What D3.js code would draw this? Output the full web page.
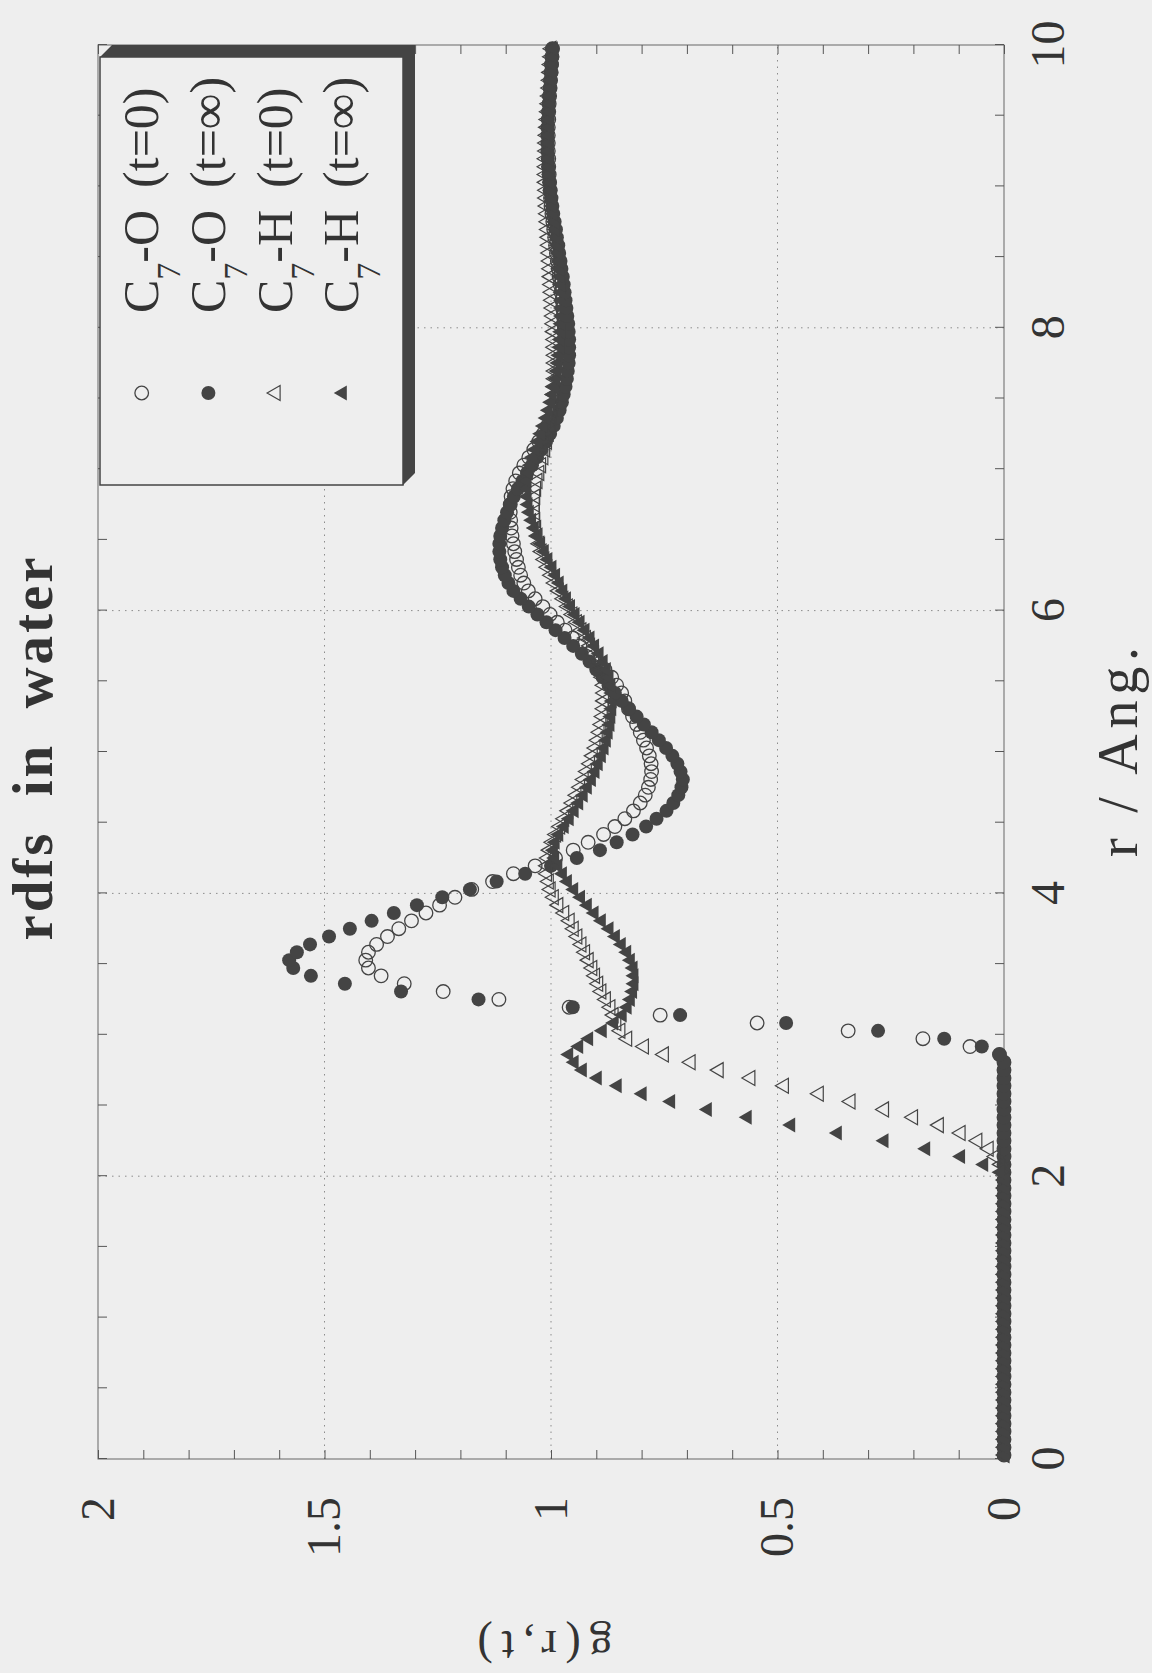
<!DOCTYPE html>
<html>
<head>
<meta charset="utf-8">
<script src="https://cdn.jsdelivr.net/npm/d3@7"></script>
<style>
  html, body { margin: 0; padding: 0; background: #eeeeee; }
  svg { display: block; }
</style>
</head>
<body>
<svg id="chart" width="1152" height="1673"></svg>
<script>
// r bins (Ang.), values sit at the bin centres
const rStart = 0.0278;
const rStep = 0.05556;

const rTicks = [0, 2, 4, 6, 8, 10];
const gTicks = [0, 0.5, 1, 1.5, 2];

const legendAtom = ["O", "O", "H", "H"];
const legendTime = ["0", "\u221E", "0", "\u221E"];

// C7-O (t=0)  open circles
const coT0 = [
  0, 0, 0, 0, 0, 0, 0, 0, 0, 0,
  0, 0, 0, 0, 0, 0, 0, 0, 0, 0,
  0, 0, 0, 0, 0, 0, 0, 0, 0, 0,
  0, 0, 0, 0, 0, 0, 0, 0, 0, 0,
  0, 0, 0, 0, 0, 0, 0, 0, 0, 0,
  0, 0.01, 0.075, 0.179, 0.344, 0.545, 0.759, 0.96, 1.115, 1.238,
  1.324, 1.375, 1.403, 1.409, 1.403, 1.385, 1.361, 1.336, 1.308, 1.276,
  1.246, 1.212, 1.175, 1.129, 1.083, 1.035, 0.99, 0.951, 0.918, 0.884,
  0.859, 0.837, 0.818, 0.803, 0.792, 0.785, 0.780, 0.778, 0.779, 0.783,
  0.789, 0.796, 0.803, 0.811, 0.820, 0.829, 0.837, 0.844, 0.855, 0.866,
  0.881, 0.899, 0.918, 0.936, 0.952, 0.969, 0.986, 1.002, 1.018, 1.035,
  1.050, 1.060, 1.067, 1.072, 1.076, 1.080, 1.083, 1.086, 1.088, 1.089,
  1.090, 1.090, 1.088, 1.084, 1.078, 1.070, 1.060, 1.049, 1.038, 1.027,
  1.017, 1.008, 1.000, 0.993, 0.987, 0.982, 0.978, 0.975, 0.973, 0.971,
  0.970, 0.970, 0.970, 0.971, 0.972, 0.973, 0.975, 0.976, 0.978, 0.980,
  0.982, 0.984, 0.986, 0.988, 0.990, 0.992, 0.994, 0.996, 0.998, 1.000,
  1.001, 1.002, 1.003, 1.004, 1.005, 1.005, 1.006, 1.006, 1.006, 1.006,
  1.005, 1.005, 1.004, 1.003, 1.002, 1.001, 1.000, 0.999, 0.998, 0.997
];

// C7-O (t=inf)  filled circles
const coTinf = [
  0, 0, 0, 0, 0, 0, 0, 0, 0, 0,
  0, 0, 0, 0, 0, 0, 0, 0, 0, 0,
  0, 0, 0, 0, 0, 0, 0, 0, 0, 0,
  0, 0, 0, 0, 0, 0, 0, 0, 0, 0,
  0, 0, 0, 0, 0, 0, 0, 0, 0, 0,
  0, 0.01, 0.049, 0.132, 0.278, 0.481, 0.715, 0.952, 1.160, 1.331,
  1.455, 1.530, 1.569, 1.578, 1.561, 1.532, 1.490, 1.444, 1.396, 1.347,
  1.296, 1.240, 1.179, 1.120, 1.057, 1.000, 0.943, 0.892, 0.855, 0.820,
  0.790, 0.767, 0.745, 0.730, 0.719, 0.712, 0.709, 0.714, 0.721, 0.732,
  0.746, 0.762, 0.778, 0.795, 0.811, 0.828, 0.844, 0.859, 0.873, 0.886,
  0.900, 0.915, 0.932, 0.951, 0.970, 0.990, 1.010, 1.030, 1.049, 1.067,
  1.083, 1.094, 1.102, 1.108, 1.112, 1.114, 1.114, 1.112, 1.108, 1.103,
  1.097, 1.090, 1.082, 1.073, 1.063, 1.053, 1.042, 1.031, 1.021, 1.011,
  1.002, 0.994, 0.987, 0.981, 0.976, 0.972, 0.968, 0.965, 0.963, 0.961,
  0.960, 0.960, 0.960, 0.961, 0.962, 0.964, 0.966, 0.968, 0.970, 0.972,
  0.974, 0.977, 0.979, 0.982, 0.984, 0.987, 0.989, 0.992, 0.995, 0.997,
  0.999, 1.001, 1.003, 1.005, 1.006, 1.007, 1.008, 1.008, 1.008, 1.008,
  1.007, 1.006, 1.005, 1.004, 1.002, 1.001, 0.999, 0.998, 0.997, 0.996
];

// C7-H (t=0)  open triangles
const chT0 = [
  0, 0, 0, 0, 0, 0, 0, 0, 0, 0,
  0, 0, 0, 0, 0, 0, 0, 0, 0, 0,
  0, 0, 0, 0, 0, 0, 0, 0, 0, 0,
  0, 0, 0, 0, 0, 0, 0, 0.008, 0.02, 0.035,
  0.060, 0.097, 0.145, 0.202, 0.266, 0.340, 0.410, 0.487, 0.561, 0.631,
  0.693, 0.752, 0.796, 0.833, 0.848, 0.857, 0.863, 0.870, 0.880, 0.890,
  0.897, 0.904, 0.910, 0.918, 0.926, 0.934, 0.943, 0.951, 0.960, 0.972,
  0.985, 0.995, 1.002, 1.006, 1.010, 1.010, 1.008, 1.004, 0.998, 0.990,
  0.981, 0.972, 0.963, 0.954, 0.945, 0.937, 0.929, 0.922, 0.915, 0.909,
  0.903, 0.898, 0.894, 0.890, 0.887, 0.885, 0.884, 0.884, 0.885, 0.888,
  0.892, 0.898, 0.906, 0.915, 0.924, 0.934, 0.944, 0.954, 0.964, 0.974,
  0.984, 0.993, 1.001, 1.009, 1.016, 1.022, 1.027, 1.031, 1.034, 1.036,
  1.037, 1.037, 1.036, 1.034, 1.031, 1.027, 1.023, 1.018, 1.014, 1.010,
  1.006, 1.003, 1.000, 0.998, 0.996, 0.995, 0.994, 0.993, 0.993, 0.993,
  0.993, 0.994, 0.994, 0.995, 0.996, 0.997, 0.998, 0.999, 1.000, 1.001,
  1.002, 1.003, 1.004, 1.005, 1.006, 1.007, 1.008, 1.009, 1.010, 1.011,
  1.012, 1.012, 1.013, 1.013, 1.013, 1.013, 1.012, 1.012, 1.011, 1.010,
  1.009, 1.008, 1.007, 1.006, 1.005, 1.004, 1.003, 1.002, 1.001, 1.000
];

// C7-H (t=inf)  filled triangles
const chTinf = [
  0, 0, 0, 0, 0, 0, 0, 0, 0, 0,
  0, 0, 0, 0, 0, 0, 0, 0, 0, 0,
  0, 0, 0, 0, 0, 0, 0, 0, 0, 0,
  0, 0, 0, 0, 0, 0, 0.01, 0.046, 0.097, 0.174,
  0.266, 0.369, 0.472, 0.568, 0.656, 0.737, 0.800, 0.855, 0.899, 0.932,
  0.950, 0.962, 0.940, 0.918, 0.888, 0.863, 0.844, 0.833, 0.826, 0.821,
  0.818, 0.818, 0.820, 0.826, 0.834, 0.846, 0.859, 0.873, 0.890, 0.906,
  0.921, 0.936, 0.951, 0.965, 0.976, 0.986, 0.993, 0.996, 0.992, 0.984,
  0.972, 0.961, 0.950, 0.940, 0.930, 0.921, 0.912, 0.904, 0.897, 0.890,
  0.884, 0.879, 0.875, 0.871, 0.869, 0.867, 0.866, 0.867, 0.869, 0.873,
  0.879, 0.886, 0.895, 0.905, 0.915, 0.926, 0.937, 0.948, 0.958, 0.967,
  0.975, 0.983, 0.991, 0.999, 1.008, 1.016, 1.024, 1.031, 1.038, 1.044,
  1.049, 1.052, 1.054, 1.055, 1.054, 1.051, 1.047, 1.042, 1.036, 1.030,
  1.024, 1.018, 1.012, 1.007, 1.002, 0.998, 0.994, 0.991, 0.988, 0.986,
  0.984, 0.982, 0.981, 0.980, 0.979, 0.978, 0.978, 0.978, 0.979, 0.980,
  0.981, 0.983, 0.984, 0.986, 0.988, 0.990, 0.992, 0.994, 0.996, 0.998,
  1.000, 1.002, 1.003, 1.004, 1.005, 1.006, 1.006, 1.006, 1.006, 1.005,
  1.005, 1.004, 1.003, 1.002, 1.001, 1.000, 0.999, 0.998, 0.997, 0.996
];

const ink = "#444";
const serif = "'Liberation Serif', 'Times New Roman', serif";

const svg = d3.select("#chart");
svg.append("rect").attr("width", 1152).attr("height", 1673).attr("fill", "#eeeeee");

// the figure is a landscape plot turned a quarter turn anticlockwise
const g = svg.append("g").attr("transform", "translate(0,1673) rotate(-90)");

const x = d3.scaleLinear([0, 10], [214, 1628]);
const y = d3.scaleLinear([0, 2], [1004, 98]);

// dotted grid at the major ticks
const grid = g.append("g").attr("stroke", "#8c8c8c").attr("stroke-dasharray", "1.5 5");
grid.selectAll(".gx").data(rTicks.slice(1, -1)).join("line")
  .attr("x1", d => x(d)).attr("x2", d => x(d))
  .attr("y1", y(0)).attr("y2", y(2));
grid.selectAll(".gy").data(gTicks.slice(1, -1)).join("line")
  .attr("x1", x(0)).attr("x2", x(10))
  .attr("y1", d => y(d)).attr("y2", d => y(d));

// frame
g.append("rect")
  .attr("x", x(0)).attr("y", y(2))
  .attr("width", x(10) - x(0)).attr("height", y(0) - y(2))
  .attr("fill", "none").attr("stroke", "#666").attr("stroke-width", 1);

// small inward ticks on all four sides
const rMinor = d3.range(0, 10.001, 0.5);
const gMinor = d3.range(0, 2.001, 0.1);
function minor(sel) {
  sel.select(".domain").remove();
  sel.selectAll(".tick line").attr("stroke", "#555");
}
g.append("g").attr("transform", `translate(0,${y(0)})`)
  .call(d3.axisBottom(x).tickValues(rMinor).tickSize(-9).tickFormat(""))
  .call(minor);
g.append("g").attr("transform", `translate(0,${y(2)})`)
  .call(d3.axisTop(x).tickValues(rMinor).tickSize(-9).tickFormat(""))
  .call(minor);
g.append("g").attr("transform", `translate(${x(0)},0)`)
  .call(d3.axisLeft(y).tickValues(gMinor).tickSize(-9).tickFormat(""))
  .call(minor);
g.append("g").attr("transform", `translate(${x(10)},0)`)
  .call(d3.axisRight(y).tickValues(gMinor).tickSize(-9).tickFormat(""))
  .call(minor);

// tick labels
function labels(sel) {
  sel.select(".domain").remove();
  sel.selectAll(".tick line").remove();
  sel.attr("font-family", serif).attr("font-size", 48).attr("color", "#333");
}
g.append("g").attr("transform", `translate(0,${y(0)})`)
  .call(d3.axisBottom(x).tickValues(rTicks).tickSize(0).tickPadding(26).tickFormat(d3.format("d")))
  .call(labels);
g.append("g").attr("transform", `translate(${x(0)},0)`)
  .call(d3.axisLeft(y).tickValues(gTicks).tickSize(0).tickPadding(38).tickFormat(d => String(d)))
  .call(labels);

// titles
g.append("text")
  .attr("x", 924).attr("y", 52)
  .attr("text-anchor", "middle")
  .attr("font-family", serif).attr("font-weight", "bold").attr("font-size", 57)
  .attr("fill", "#333")
  .attr("xml:space", "preserve")
  .attr("textLength", 383).attr("lengthAdjust", "spacing")
  .text("rdfs  in  water");

g.append("text")
  .attr("x", 921).attr("y", 1137)
  .attr("text-anchor", "middle")
  .attr("font-family", serif).attr("font-size", 56)
  .attr("fill", "#333")
  .attr("textLength", 210).attr("lengthAdjust", "spacing")
  .text("r / Ang.");

g.append("text")
  .attr("transform", "translate(42,545) rotate(-90)")
  .attr("text-anchor", "middle")
  .attr("font-family", serif).attr("font-size", 46)
  .attr("fill", "#333")
  .attr("textLength", 135).attr("lengthAdjust", "spacing")
  .text("g(r,t)");

// markers
const triangle = "M0,-8L7.5,5L-7.5,5Z";
const series = [
  { values: coT0, shape: "circle", filled: false },
  { values: coTinf, shape: "circle", filled: true },
  { values: chT0, shape: "triangle", filled: false },
  { values: chTinf, shape: "triangle", filled: true }
];

function drawMarker(sel, s, r) {
  if (s.shape === "circle") {
    sel.append("circle").attr("r", s.filled ? r - 0.5 : r - 0.7)
      .attr("fill", s.filled ? ink : "none")
      .attr("stroke", ink).attr("stroke-width", s.filled ? 0 : 1.3);
  } else {
    sel.append("path").attr("d", triangle)
      .attr("fill", s.filled ? ink : "none")
      .attr("stroke", ink).attr("stroke-width", s.filled ? 0 : 1.2)
      .attr("stroke-linejoin", "miter");
  }
}

series.forEach(s => {
  const pts = s.values.map((v, i) => ({ r: rStart + i * rStep, g: v }));
  const grp = g.append("g");
  grp.selectAll("g").data(pts).join("g")
    .attr("transform", d => `translate(${x(d.r)},${y(d.g)})`)
    .each(function () { drawMarker(d3.select(this), s, 7.5); });
});

// legend box, drawn as a slab with a bevelled drop shadow
const legend = g.append("g");
legend.append("path")
  .attr("d", "M1616,100L1628,112L1628,415L1200,415L1188,403L1616,403Z")
  .attr("fill", ink);
legend.append("rect")
  .attr("x", 1188).attr("y", 100).attr("width", 428).attr("height", 303)
  .attr("fill", "#eeeeee").attr("stroke", ink).attr("stroke-width", 1.5);

series.forEach((s, k) => {
  const row = legend.append("g").attr("transform", `translate(0,${141.7 + k * 66.7})`);
  const sym = row.append("g").attr("transform", "translate(1280,0)");
  drawMarker(sym, s, 7.5);
  const t = row.append("text")
    .attr("x", 1360).attr("y", 16.5)
    .attr("font-family", serif).attr("font-size", 50)
    .attr("fill", "#333");
  t.append("tspan").text("C");
  t.append("tspan").attr("font-size", 34).attr("dy", 22).text("7");
  t.append("tspan").attr("dy", -22).text("-" + legendAtom[k]);
  t.append("tspan").attr("dx", 22).text("(t=" + legendTime[k] + ")");
});
</script>
</body>
</html>
